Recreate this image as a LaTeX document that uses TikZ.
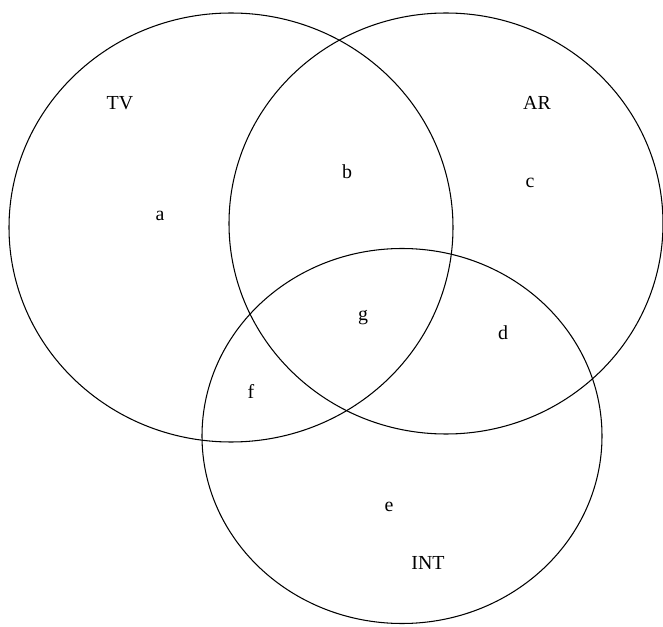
\documentclass[tikz,border=0pt]{standalone}
\usepackage{fontspec}
\setmainfont{Liberation Serif}
\usetikzlibrary{shapes.geometric}

\begin{document}
\begin{tikzpicture}[
    x=0.3mm, y=-0.3mm,
    every node/.style={font=\fontsize{17}{20}\selectfont},
    set/.style={draw, ellipse, line width=0.9pt, inner sep=0pt},
    region/.style={inner sep=0pt}
  ]
  \useasboundingbox (0,0) rectangle (663,627);
  % the three sets
  \node[set, minimum width=133.2mm, minimum height=128.7mm] (tv) at (231,227.5) {};
  \node[set, minimum width=130.2mm, minimum height=126.3mm] (ar) at (446,223.5) {};
  \node[set, minimum width=120mm, minimum height=112.5mm] (int) at (402,436) {};
  % set names
  \node[region] (tvname) at (120,103) {TV};
  \node[region] (arname) at (537,103) {AR};
  \node[region] (intname) at (428,563) {INT};
  % regions
  \node[region] (a) at (160,216) {a};
  \node[region] (b) at (347,172) {b};
  \node[region] (c) at (530,183) {c};
  \node[region] (g) at (363,318) {g};
  \node[region] (d) at (503,333) {d};
  \node[region] (f) at (251,391) {f};
  \node[region] (e) at (389,507) {e};
\end{tikzpicture}
\end{document}
